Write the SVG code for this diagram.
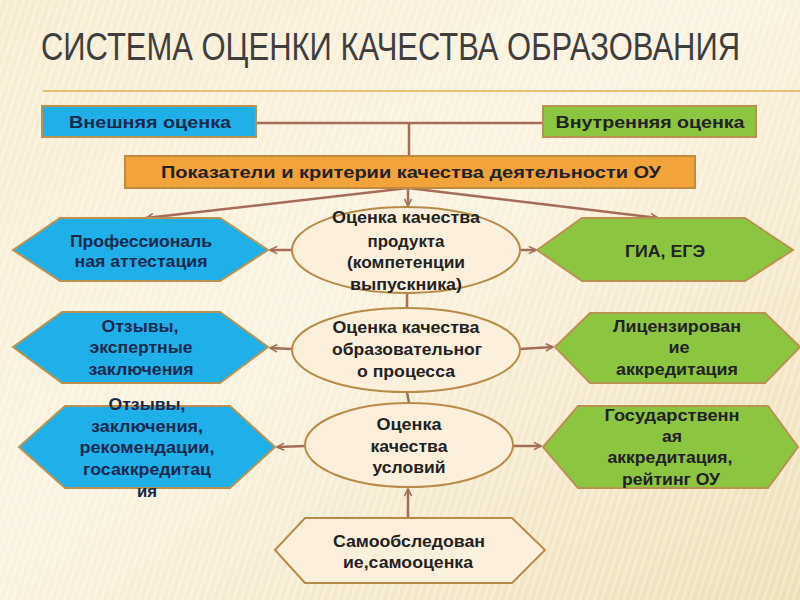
<svg xmlns="http://www.w3.org/2000/svg" width="800" height="600" viewBox="0 0 800 600">
  <defs>
    <linearGradient id="bg" x1="0" y1="0" x2="1" y2="1">
      <stop offset="0" stop-color="#f7ecd0"/>
      <stop offset="0.45" stop-color="#fbf3e0"/>
      <stop offset="1" stop-color="#eedfb6"/>
    </linearGradient>
    <pattern id="stripes" width="7" height="7" patternUnits="userSpaceOnUse" patternTransform="rotate(18)">
      <rect x="0" y="0" width="3" height="7" fill="#ffffff" fill-opacity="0.28"/>
    </pattern>
    <marker id="arr" viewBox="0 0 10 10" refX="9" refY="5" markerWidth="9" markerHeight="9" markerUnits="userSpaceOnUse" orient="auto">
      <path d="M1,1 L9,5 L1,9" fill="none" stroke="#a56d58" stroke-width="1.8"/>
    </marker>
    <style>
      .title { font-family: "Liberation Sans", Arial, sans-serif; font-size: 38px; fill: #3e3e3e; }
      .t { font-family: "Liberation Sans", Arial, sans-serif; font-size: 16px; font-weight: bold; text-anchor: middle; fill: #222; }
      .tb { fill: #14284a; }
      .con { stroke: #a56d58; stroke-width: 2.5; fill: none; }
      .blue { fill: #1fb0ea; stroke: #b99252; stroke-width: 2; }
      .green { fill: #8cc641; stroke: #b99252; stroke-width: 2; }
      .orange { fill: #f2a33a; stroke: #c08a40; stroke-width: 2; }
      .cream { fill: #fcf0dd; stroke: #b98b48; stroke-width: 2; }
    </style>
  </defs>

  <rect x="0" y="0" width="800" height="600" fill="url(#bg)"/>
  <rect x="0" y="0" width="800" height="600" fill="url(#stripes)"/>

  <text class="title" transform="scale(0.775,1)" x="52.9" y="60" textLength="902" lengthAdjust="spacingAndGlyphs">СИСТЕМА ОЦЕНКИ КАЧЕСТВА ОБРАЗОВАНИЯ</text>
  <line x1="43" y1="91" x2="800" y2="91" stroke="#e2ae52" stroke-width="1.5"/>

  <g id="connectors">
    <line class="con" x1="256" y1="123" x2="543" y2="123"/>
    <line class="con" x1="409" y1="123" x2="409" y2="156"/>
    <line class="con" x1="408" y1="188" x2="408" y2="206" marker-end="url(#arr)"/>
    <line class="con" x1="408" y1="188" x2="146" y2="218" marker-end="url(#arr)"/>
    <line class="con" x1="408" y1="188" x2="658" y2="218" marker-end="url(#arr)"/>
    <line class="con" x1="407" y1="293" x2="407" y2="308"/>
    <line class="con" x1="407" y1="392" x2="409" y2="403"/>
    <line class="con" x1="292" y1="250" x2="270" y2="250" marker-end="url(#arr)"/>
    <line class="con" x1="520" y1="250" x2="536" y2="250" marker-end="url(#arr)"/>
    <line class="con" x1="292" y1="349" x2="270" y2="348" marker-end="url(#arr)"/>
    <line class="con" x1="520" y1="349" x2="553" y2="347" marker-end="url(#arr)"/>
    <line class="con" x1="305" y1="446" x2="277" y2="447" marker-end="url(#arr)"/>
    <line class="con" x1="513" y1="446" x2="541" y2="446" marker-end="url(#arr)"/>
    <line class="con" x1="408" y1="517" x2="408" y2="489" marker-end="url(#arr)"/>
  </g>

  <g id="vneshnyaya">
    <rect class="blue" x="42" y="106" width="214" height="31"/>
    <text class="t tb" x="150" y="128" textLength="162" lengthAdjust="spacingAndGlyphs">Внешняя оценка</text>
  </g>
  <g id="vnutrennyaya">
    <rect class="green" x="543" y="106" width="213" height="31"/>
    <text class="t" x="650" y="128" textLength="189" lengthAdjust="spacingAndGlyphs">Внутренняя оценка</text>
  </g>
  <g id="pokazateli">
    <rect class="orange" x="125" y="156" width="570" height="32"/>
    <text class="t" x="411" y="178" textLength="500" lengthAdjust="spacingAndGlyphs">Показатели и критерии качества деятельности ОУ</text>
  </g>

  <g id="ocenka-produkta">
    <ellipse class="cream" cx="406" cy="250" rx="114" ry="43"/>
    <text class="t" x="406" y="223" textLength="148" lengthAdjust="spacingAndGlyphs">Оценка качества</text>
    <text class="t" x="406" y="247" textLength="77" lengthAdjust="spacingAndGlyphs">продукта</text>
    <text class="t" x="406" y="268" textLength="118" lengthAdjust="spacingAndGlyphs">(компетенции</text>
    <text class="t" x="406" y="290" textLength="112" lengthAdjust="spacingAndGlyphs">выпускника)</text>
  </g>
  <g id="ocenka-processa">
    <ellipse class="cream" cx="406" cy="350" rx="114" ry="42"/>
    <text class="t" x="406" y="333" textLength="147" lengthAdjust="spacingAndGlyphs">Оценка качества</text>
    <text class="t" x="407" y="355" textLength="150" lengthAdjust="spacingAndGlyphs">образовательног</text>
    <text class="t" x="406" y="377" textLength="98" lengthAdjust="spacingAndGlyphs">о процесса</text>
  </g>
  <g id="ocenka-usloviy">
    <ellipse class="cream" cx="409" cy="445" rx="104" ry="42"/>
    <text class="t" x="409" y="430" textLength="65" lengthAdjust="spacingAndGlyphs">Оценка</text>
    <text class="t" x="409" y="452" textLength="77" lengthAdjust="spacingAndGlyphs">качества</text>
    <text class="t" x="409" y="473" textLength="73" lengthAdjust="spacingAndGlyphs">условий</text>
  </g>

  <g id="prof-attestaciya">
    <polygon class="blue" points="13,250 60,218 220,218 268,250 220,281 60,281"/>
    <text class="t tb" x="141" y="247" textLength="142" lengthAdjust="spacingAndGlyphs">Профессиональ</text>
    <text class="t tb" x="141" y="267" textLength="133" lengthAdjust="spacingAndGlyphs">ная аттестация</text>
  </g>
  <g id="otzyvy-ekspert">
    <polygon class="blue" points="13,347 62,312 220,312 268,347 220,383 62,383"/>
    <text class="t tb" x="140" y="332" textLength="77" lengthAdjust="spacingAndGlyphs">Отзывы,</text>
    <text class="t tb" x="141" y="353" textLength="103" lengthAdjust="spacingAndGlyphs">экспертные</text>
    <text class="t tb" x="141" y="375" textLength="105" lengthAdjust="spacingAndGlyphs">заключения</text>
  </g>
  <g id="otzyvy-rekomend">
    <polygon class="blue" points="19,447 65,406 230,406 275,447 230,488 65,488"/>
    <text class="t tb" x="147" y="410" textLength="77" lengthAdjust="spacingAndGlyphs">Отзывы,</text>
    <text class="t tb" x="147" y="432" textLength="112" lengthAdjust="spacingAndGlyphs">заключения,</text>
    <text class="t tb" x="147" y="453" textLength="135" lengthAdjust="spacingAndGlyphs">рекомендации,</text>
    <text class="t tb" x="147" y="475" textLength="128" lengthAdjust="spacingAndGlyphs">госаккредитац</text>
    <text class="t tb" x="147" y="497" textLength="20" lengthAdjust="spacingAndGlyphs">ия</text>
  </g>

  <g id="gia-ege">
    <polygon class="green" points="537,250 582,218 745,218 793,250 745,281 582,281"/>
    <text class="t" x="665" y="257" textLength="80" lengthAdjust="spacingAndGlyphs">ГИА, ЕГЭ</text>
  </g>
  <g id="licenzirovanie">
    <polygon class="green" points="555,347 590,313 765,313 800,347 765,383 590,383"/>
    <text class="t" x="677" y="332" textLength="128" lengthAdjust="spacingAndGlyphs">Лицензирован</text>
    <text class="t" x="679" y="353" textLength="21" lengthAdjust="spacingAndGlyphs">ие</text>
    <text class="t" x="677" y="375" textLength="122" lengthAdjust="spacingAndGlyphs">аккредитация</text>
  </g>
  <g id="gos-akkreditaciya">
    <polygon class="green" points="543,447 578,406 768,406 798,447 768,488 578,488"/>
    <text class="t" x="672" y="421" textLength="135" lengthAdjust="spacingAndGlyphs">Государственн</text>
    <text class="t" x="672" y="442" textLength="20" lengthAdjust="spacingAndGlyphs">ая</text>
    <text class="t" x="670" y="463" textLength="125" lengthAdjust="spacingAndGlyphs">аккредитация,</text>
    <text class="t" x="671" y="485" textLength="98" lengthAdjust="spacingAndGlyphs">рейтинг ОУ</text>
  </g>

  <g id="samoobsledovanie">
    <polygon class="cream" points="275,550 305,518 512,518 545,550 512,583 305,583"/>
    <text class="t" x="409" y="547" textLength="152" lengthAdjust="spacingAndGlyphs">Самообследован</text>
    <text class="t" x="408" y="568" textLength="130" lengthAdjust="spacingAndGlyphs">ие,самооценка</text>
  </g>
</svg>
